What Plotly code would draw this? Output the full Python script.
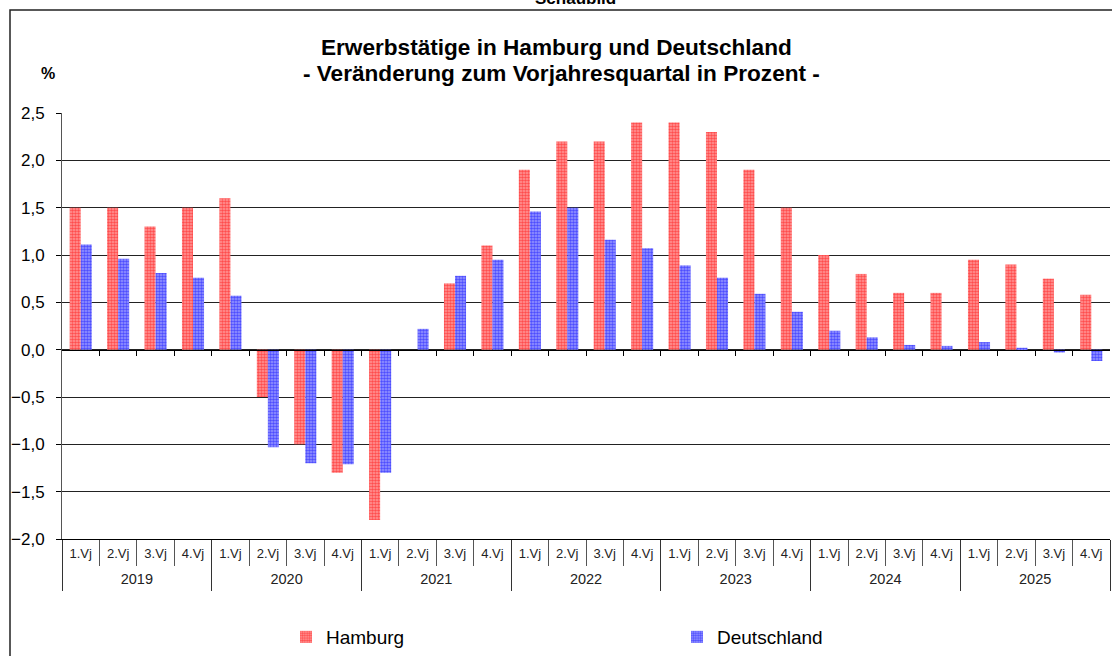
import plotly.graph_objects as go

years = ["2019", "2020", "2021", "2022", "2023", "2024", "2025"]
quarters = ["1.Vj", "2.Vj", "3.Vj", "4.Vj"]
hamburg = [1.5, 1.5, 1.3, 1.5,
           1.6, -0.5, -1.0, -1.3,
           -1.8, 0.0, 0.7, 1.1,
           1.9, 2.2, 2.2, 2.4,
           2.4, 2.3, 1.9, 1.5,
           1.0, 0.8, 0.6, 0.6,
           0.95, 0.9, 0.75, 0.58]
deutschland = [1.11, 0.96, 0.81, 0.76,
               0.57, -1.03, -1.2, -1.21,
               -1.3, 0.22, 0.78, 0.95,
               1.46, 1.5, 1.16, 1.07,
               0.89, 0.76, 0.59, 0.4,
               0.2, 0.13, 0.05, 0.04,
               0.08, 0.02, -0.03, -0.12]
y_ticks = [-2.0, -1.5, -1.0, -0.5, 0.0, 0.5, 1.0, 1.5, 2.0, 2.5]

cats = [f"{y} {q}" for y in years for q in quarters]
q_labels = [q for _ in years for q in quarters]
nq = len(quarters)
n = len(cats)
year_centers = [i * nq + (nq - 1) / 2 for i in range(len(years))]

W, H = 1112, 656
L, R, T, B = 62, 2, 113, 117
pw, ph = W - L - R, H - T - B
ymin, ymax = -2.0, 2.5


def px_x(p):
    return (p - L) / pw


def px_y(p):
    return (H - B - p) / ph


FONT = "Liberation Sans, Arial, sans-serif"

fig = go.Figure()
fig.add_trace(go.Bar(
    x=cats, y=hamburg, name="Hamburg",
    marker=dict(color="#ff9a9a", line=dict(width=0),
                pattern=dict(shape=".", fgcolor="#ff0000", size=3,
                             solidity=0.55, fillmode="overlay")),
))
fig.add_trace(go.Bar(
    x=cats, y=deutschland, name="Deutschland",
    marker=dict(color="#9a9aff", line=dict(width=0),
                pattern=dict(shape=".", fgcolor="#0000ff", size=3,
                             solidity=0.55, fillmode="overlay")),
))
# empty helper traces so that the decorative overlay axes get drawn
for ax in ["x2", "x3", "x4"]:
    fig.add_trace(go.Scatter(x=[], y=[], xaxis=ax, yaxis="y", mode="markers",
                             showlegend=False, hoverinfo="skip"))

boundaries = [i + 0.5 for i in range(n - 1)]
xr = [-0.5, n - 0.5]

fig.update_layout(
    width=W, height=H,
    margin=dict(l=L, r=R, t=T, b=B, autoexpand=False),
    paper_bgcolor="white", plot_bgcolor="white",
    separators=",.",
    barmode="group", bargap=0.41, bargroupgap=0,
    font=dict(family=FONT, color="#000"),
    showlegend=True,
    legend=dict(orientation="h", x=px_x(286), y=px_y(637), xanchor="left",
                yanchor="middle", font=dict(size=19, family=FONT),
                entrywidth=346, entrywidthmode="pixels",
                bgcolor="rgba(0,0,0,0)"),
    # quarter labels
    xaxis=dict(
        type="category", categoryorder="array", categoryarray=cats,
        tickvals=cats, ticktext=q_labels,
        showgrid=False, zeroline=False, automargin=False,
        showline=True, linecolor="#000", linewidth=1, ticks="",
        ticklabelstandoff=2,
        tickfont=dict(size=13, family=FONT, color="#222"),
    ),
    # zero line with small ticks between categories
    xaxis2=dict(
        overlaying="x", anchor="free", position=(0 - ymin) / (ymax - ymin),
        type="linear", range=xr, showgrid=False, zeroline=False,
        showline=True, linecolor="#000", linewidth=1, automargin=False,
        ticks="outside", ticklen=5, tickcolor="#000",
        tickvals=boundaries, showticklabels=False,
    ),
    # separators below the axis: year dividers (major) and quarter (minor)
    xaxis3=dict(
        overlaying="x", anchor="y", side="bottom", automargin=False,
        type="linear", range=xr, showgrid=False, zeroline=False,
        showline=False, showticklabels=False,
        ticks="outside", ticklen=51, tickcolor="#333", tickwidth=1,
        tick0=-0.5, dtick=nq,
        minor=dict(ticks="outside", ticklen=26, tickcolor="#555",
                   tick0=0.5, dtick=1, showgrid=False),
    ),
    # year labels
    xaxis4=dict(
        overlaying="x", anchor="y", side="bottom", automargin=False,
        type="linear", range=xr, showgrid=False, zeroline=False,
        showline=False, ticks="", tickvals=year_centers, ticktext=years,
        ticklabelstandoff=29,
        tickfont=dict(size=14.5, family=FONT, color="#222"),
    ),
    yaxis=dict(
        range=[ymin, ymax], tickvals=y_ticks, tickformat=".1f",
        showgrid=True, gridcolor="#222", gridwidth=1, zeroline=False,
        showline=True, linecolor="#555", linewidth=1, automargin=False,
        ticks="outside", ticklen=5, tickcolor="#000", ticklabelstandoff=8,
        tickfont=dict(size=17, family=FONT, color="#000"),
    ),
)

fig.add_shape(type="rect", xref="paper", yref="paper",
              x0=px_x(10), x1=px_x(1130), y0=px_y(10), y1=px_y(680),
              line=dict(color="#222", width=1.5), layer="below")

fig.add_annotation(text="<b>Schaubild</b>", xref="paper", yref="paper",
                   x=px_x(575), y=px_y(10), xanchor="center", yanchor="bottom",
                   showarrow=False, font=dict(size=17, family=FONT))
fig.add_annotation(text="<b>Erwerbstätige in Hamburg und Deutschland</b>",
                   xref="paper", yref="paper", x=px_x(556), y=px_y(48),
                   xanchor="center", yanchor="middle", showarrow=False,
                   font=dict(size=22.6, family=FONT))
fig.add_annotation(text="<b>- Veränderung zum Vorjahresquartal in Prozent -</b>",
                   xref="paper", yref="paper", x=px_x(561), y=px_y(73),
                   xanchor="center", yanchor="middle", showarrow=False,
                   font=dict(size=22.6, family=FONT))
fig.add_annotation(text="<b>%</b>", xref="paper", yref="paper",
                   x=px_x(48), y=px_y(73), xanchor="center", yanchor="middle",
                   showarrow=False, font=dict(size=16, family=FONT))

fig.write_html("out.html", config={"displayModeBar": False},
               post_script="document.body.style.margin='0';"
                           "document.body.style.overflow='hidden';")
